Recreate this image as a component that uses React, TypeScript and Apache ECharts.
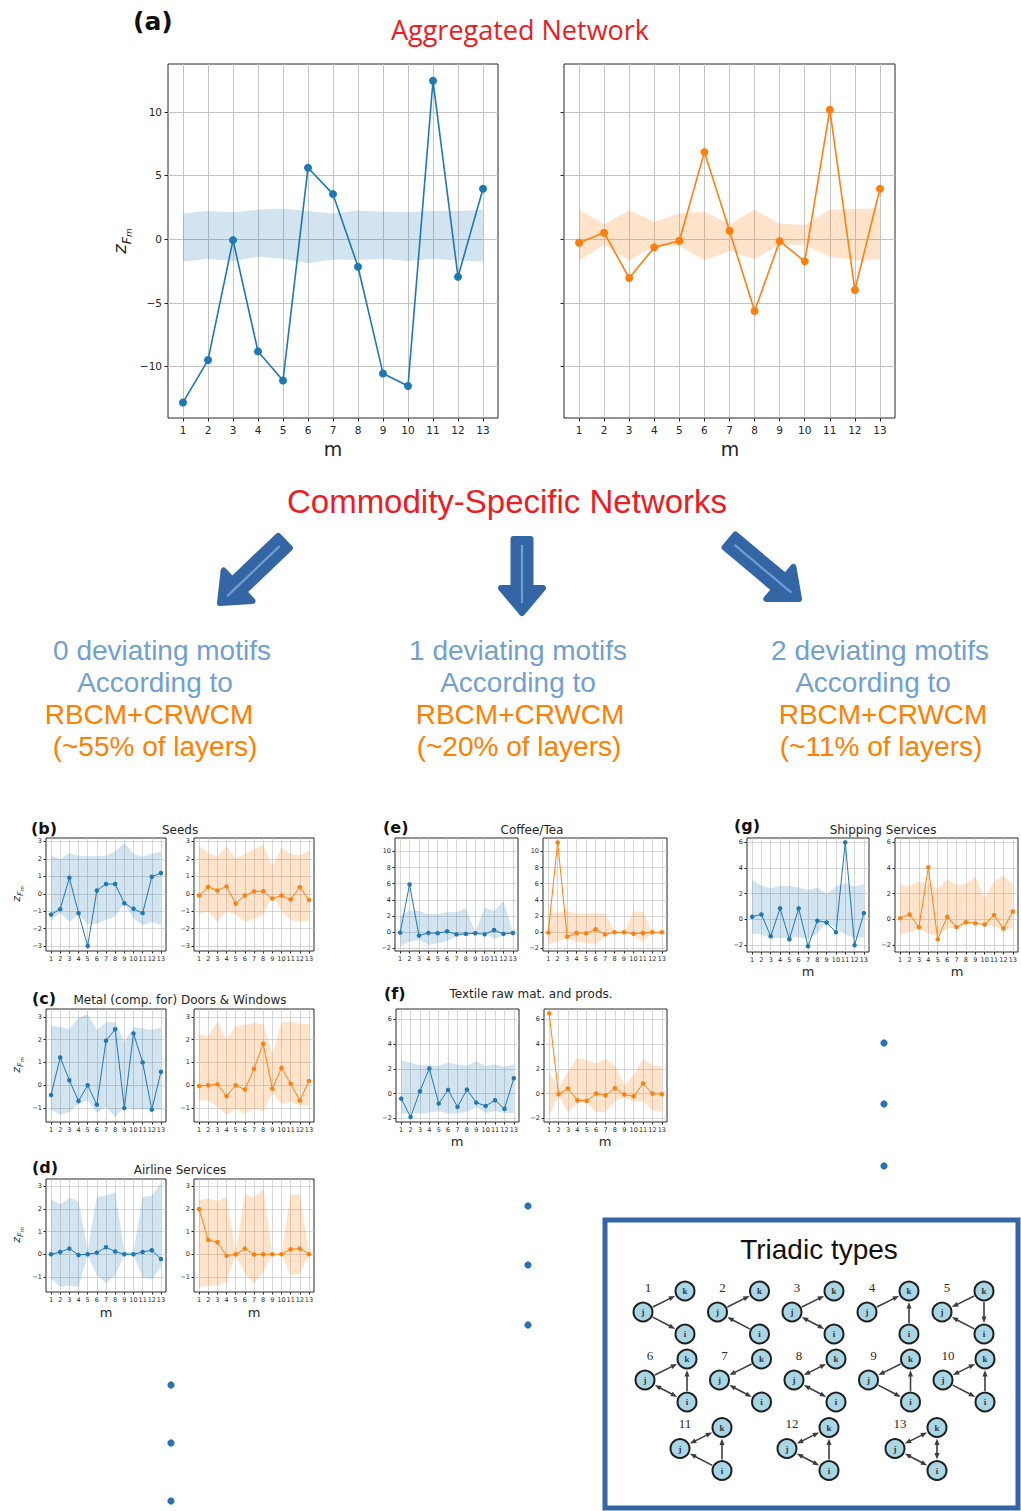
import React, { useEffect, useRef } from 'react';
import * as echarts from 'echarts';

// motif index m = 1..13
const M = [1, 2, 3, 4, 5, 6, 7, 8, 9, 10, 11, 12, 13];

// (a) aggregated network: z-scores and null-model bands (RBCM blue, CRWCM orange)
const aggBlue = [-12.83, -9.5, -0.08, -8.82, -11.1, 5.6, 3.53, -2.17, -10.55, -11.54, 12.43, -2.96, 3.95];
const aggBlueHi = [2.0, 2.2, 2.1, 2.3, 2.4, 2.2, 2.0, 2.25, 2.15, 2.1, 2.2, 2.2, 2.3];
const aggBlueLo = [-1.78, -1.55, -1.73, -1.39, -1.55, -1.9, -1.6, -1.65, -1.55, -1.73, -1.55, -1.68, -1.78];
const aggOrange = [-0.29, 0.5, -3.06, -0.65, -0.13, 6.83, 0.65, -5.65, -0.16, -1.75, 10.16, -4.0, 3.95];
const aggOrangeHi = [2.28, 1.18, 2.25, 1.36, 2.0, 2.17, 1.18, 2.3, 1.2, 1.1, 2.33, 2.36, 2.43];
const aggOrangeLo = [-1.7, -0.42, -1.68, -0.55, -0.55, -1.65, -0.94, -1.57, -0.45, -0.47, -1.41, -1.65, -1.6];

// (b) Seeds
const seedsBlue = [-1.19, -0.88, 0.92, -1.11, -2.99, 0.19, 0.56, 0.56, -0.54, -0.86, -1.11, 0.98, 1.19];
const seedsBlueHi = [2.2, 2.0, 2.34, 2.18, 2.16, 2.15, 2.18, 2.43, 2.91, 2.3, 2.13, 2.3, 2.43];
const seedsBlueLo = [-1.5, -1.1, -1.6, -1.2, -1.75, -1.7, -1.5, -1.3, -0.55, -1.4, -1.8, -1.6, -1.8];
const seedsOrange = [-0.1, 0.4, 0.19, 0.42, -0.56, -0.1, 0.13, 0.15, -0.27, -0.1, -0.33, 0.38, -0.35];
const seedsOrangeHi = [2.76, 2.34, 2.15, 2.72, 2.05, 2.28, 2.57, 2.82, 1.57, 2.66, 2.28, 2.2, 2.47];
const seedsOrangeLo = [-1.2, -1.0, -1.6, -1.0, -1.2, -1.6, -1.45, -1.2, -0.05, -1.0, -1.5, -1.6, -1.55];

// (c) Metal (comp. for) Doors & Windows
const metalBlue = [-0.43, 1.22, 0.22, -0.69, 0.0, -0.85, 1.95, 2.45, -1.0, 2.27, 1.0, -1.07, 0.59];
const metalBlueHi = [2.61, 2.54, 2.46, 2.96, 3.12, 2.42, 2.76, 2.76, 1.91, 2.54, 2.49, 2.42, 2.52];
const metalBlueLo = [-1.07, -1.28, -1.17, -0.81, -0.66, -1.22, -0.95, -1.39, -0.95, -1.06, -1.06, -1.06, -1.1];
const metalOrange = [-0.03, 0.0, 0.04, -0.47, 0.0, -0.19, 0.72, 1.82, -0.15, 0.76, 0.07, -0.67, 0.19];
const metalOrangeHi = [2.24, 2.13, 2.79, 2.02, 2.6, 2.64, 2.74, 2.67, 1.39, 2.74, 2.79, 2.71, 2.67];
const metalOrangeLo = [-0.66, -0.66, -0.95, -1.29, -1.03, -1.25, -1.03, -1.14, -0.35, -0.81, -0.73, -0.88, -0.91];

// (d) Airline Services
const airBlue = [0.0, 0.1, 0.25, -0.03, 0.0, 0.07, 0.31, 0.12, 0.0, 0.0, 0.1, 0.18, -0.21];
const airBlueHi = [2.43, 2.21, 2.5, 2.33, 0.18, 2.55, 2.59, 2.74, 0.1, 0.1, 2.53, 2.59, 3.14];
const airBlueLo = [-1.08, -1.45, -1.38, -1.45, -0.04, -0.93, -1.27, -0.93, -0.04, -0.04, -1.05, -1.11, -0.56];
const airOrange = [2.0, 0.64, 0.53, -0.07, 0.0, 0.25, -0.01, 0.0, 0.0, 0.0, 0.22, 0.25, 0.0];
const airOrangeHi = [2.4, 2.47, 2.36, 2.55, 0.1, 2.65, 2.5, 2.92, 0.0, 0.0, 2.65, 2.62, 0.1];
const airOrangeLo = [-1.45, -1.41, -1.38, -1.23, -0.04, -0.86, -1.31, -0.79, 0.0, 0.0, -0.93, -0.86, -0.04];

// (e) Coffee/Tea
const coffeeBlue = [-0.04, 5.9, -0.41, -0.08, -0.12, 0.12, -0.25, -0.2, -0.12, -0.25, 0.29, -0.2, -0.08];
const coffeeBlueHi = [2.07, 2.69, 2.64, 2.27, 2.27, 2.48, 2.48, 2.98, 0.0, 3.06, 2.64, 3.88, 0.1];
const coffeeBlueLo = [-1.7, -1.16, -0.95, -1.57, -1.36, -1.07, -0.54, -0.33, -0.12, 0.0, -0.83, -0.33, -0.12];
const coffeeOrange = [-0.04, 11.1, -0.54, -0.08, -0.12, 0.37, -0.25, 0.0, 0.0, -0.17, -0.08, 0.0, 0.0];
const coffeeOrangeHi = [2.35, 2.44, 2.64, 2.35, 2.35, 2.35, 2.35, 0.0, 0.0, 2.56, 2.56, 0.0, 0.0];
const coffeeOrangeLo = [-1.49, -1.16, -0.74, -1.16, -1.36, -1.49, -0.54, 0.0, 0.0, -0.41, -1.24, 0.0, 0.0];

// (f) Textile raw mat. and prods.
const textileBlue = [-0.41, -1.89, 0.19, 2.03, -0.81, 0.3, -1.08, 0.32, -0.73, -1.0, -0.54, -1.24, 1.24];
const textileBlueHi = [2.7, 2.49, 2.3, 2.3, 2.24, 2.51, 2.35, 2.24, 2.62, 2.22, 2.35, 2.16, 2.38];
const textileBlueLo = [-1.62, -1.62, -1.62, -1.54, -1.43, -1.62, -1.62, -1.49, -1.08, -1.57, -1.43, -1.57, -1.57];
const textileOrange = [6.49, -0.05, 0.41, -0.54, -0.59, 0.0, -0.14, 0.43, -0.08, -0.22, 0.81, 0.0, -0.05];
const textileOrangeHi = [1.76, 0.4, 1.81, 2.89, 2.7, 2.43, 2.78, 2.3, 0.68, 1.49, 2.84, 2.3, 2.19];
const textileOrangeLo = [-1.81, -0.14, -1.54, -0.81, -0.73, -1.49, -1.49, -0.62, -0.3, -0.68, -0.62, -1.35, -1.49];

// (g) Shipping Services
const shipBlue = [0.21, 0.39, -1.3, 0.86, -1.53, 0.86, -2.08, -0.1, -0.23, -0.99, 5.97, -2.0, 0.49];
const shipBlueHi = [3.06, 2.62, 2.42, 2.62, 2.6, 2.47, 2.29, 2.47, 1.95, 2.55, 2.81, 2.55, 2.75];
const shipBlueLo = [-1.09, -1.17, -1.43, -1.43, -1.43, -1.35, -1.48, -1.09, -0.18, -0.7, -1.17, -1.43, -1.38];
const shipOrange = [0.1, 0.39, -0.6, 4.05, -1.53, 0.21, -0.6, -0.21, -0.29, -0.39, 0.34, -0.7, 0.62];
const shipOrangeHi = [2.68, 2.6, 2.94, 2.73, 2.42, 3.14, 2.68, 2.73, 3.32, 1.64, 2.94, 3.4, 2.68];
const shipOrangeLo = [-1.17, -1.01, -0.7, -1.09, -1.27, -0.7, -0.65, -0.44, -0.18, -0.31, -0.57, -0.7, -0.7];

// y tick labels
const aggTicks = [-10, -5, 0, 5, 10];
const seedsTicks = [-3, -2, -1, 0, 1, 2, 3];
const unitTicks = [-1, 0, 1, 2, 3];
const coffeeTicks = [-2, 0, 2, 4, 6, 8, 10];
const evenTicks = [-2, 0, 2, 4, 6];

// texts
const panelTitles = ['Seeds', 'Metal (comp. for) Doors & Windows', 'Airline Services', 'Coffee/Tea', 'Textile raw mat. and prods.', 'Shipping Services'];
const panelLetters = ['(b)', '(c)', '(d)', '(e)', '(f)', '(g)'];
const deviatingCounts = ['0', '1', '2'];
const layerShares = ['~55%', '~20%', '~11%'];

// triadic motifs: edges between nodes j, k, i (true = reciprocal)
type Edge = [string, string, boolean?];
const triadEdges: Edge[][] = [
  [['j', 'k'], ['j', 'i']],
  [['j', 'k'], ['i', 'j']],
  [['j', 'k'], ['i', 'j', true]],
  [['j', 'k'], ['i', 'k']],
  [['k', 'j'], ['k', 'i'], ['i', 'j']],
  [['j', 'k'], ['i', 'j', true], ['i', 'k']],
  [['k', 'j'], ['i', 'j', true]],
  [['j', 'k', true], ['i', 'j', true]],
  [['k', 'j'], ['j', 'i'], ['i', 'k']],
  [['j', 'k', true], ['j', 'i'], ['i', 'k']],
  [['j', 'k', true], ['i', 'j'], ['i', 'k']],
  [['j', 'k', true], ['i', 'j', true], ['i', 'k']],
  [['j', 'k', true], ['i', 'j', true], ['i', 'k', true]],
];

const BLUE = '#1f77b4';
const ORANGE = '#ff7f0e';
const BLUE_BAND = 'rgba(31,119,180,0.2)';
const ORANGE_BAND = 'rgba(255,127,14,0.22)';
const TEXT_BLUE = '#729fcf';
const TEXT_ORANGE = '#ff8000';
const RED = '#ec1c24';
const ARROW = '#3465a4';

type Panel = {
  left: number; top: number; width: number; height: number;
  yMin: number; yMax: number; yTicks: number[]; xMin: number; xMax: number;
  values: number[]; lo: number[]; hi: number[]; color: string; band: string;
  big: boolean; yLabels: boolean;
};

const small = (left: number, top: number, width: number, height: number, yMin: number, yMax: number, yTicks: number[], values: number[], lo: number[], hi: number[], blue: boolean): Panel => ({
  left, top, width, height, yMin, yMax, yTicks, xMin: 0.45, xMax: 13.55,
  values, lo, hi, color: blue ? BLUE : ORANGE, band: blue ? BLUE_BAND : ORANGE_BAND, big: false, yLabels: true,
});

const panels: Panel[] = [
  { left: 168, top: 64, width: 330, height: 354, yMin: -14.05, yMax: 13.75, yTicks: aggTicks, xMin: 0.4, xMax: 13.6, values: aggBlue, lo: aggBlueLo, hi: aggBlueHi, color: BLUE, band: BLUE_BAND, big: true, yLabels: true },
  { left: 564, top: 64, width: 331, height: 354, yMin: -14.05, yMax: 13.75, yTicks: aggTicks, xMin: 0.4, xMax: 13.6, values: aggOrange, lo: aggOrangeLo, hi: aggOrangeHi, color: ORANGE, band: ORANGE_BAND, big: true, yLabels: false },
  small(46, 838, 120, 113, -3.28, 3.2, seedsTicks, seedsBlue, seedsBlueLo, seedsBlueHi, true),
  small(194, 838, 120, 113, -3.28, 3.2, seedsTicks, seedsOrange, seedsOrangeLo, seedsOrangeHi, false),
  small(46, 1009, 120, 113, -1.61, 3.34, unitTicks, metalBlue, metalBlueLo, metalBlueHi, true),
  small(194, 1009, 120, 113, -1.61, 3.34, unitTicks, metalOrange, metalOrangeLo, metalOrangeHi, false),
  small(46, 1179, 120, 113, -1.67, 3.33, unitTicks, airBlue, airBlueLo, airBlueHi, true),
  small(194, 1179, 120, 113, -1.67, 3.33, unitTicks, airOrange, airOrangeLo, airOrangeHi, false),
  small(395, 838, 123, 113, -2.31, 11.65, coffeeTicks, coffeeBlue, coffeeBlueLo, coffeeBlueHi, true),
  small(543, 838, 124, 113, -2.31, 11.65, coffeeTicks, coffeeOrange, coffeeOrangeLo, coffeeOrangeHi, false),
  small(396, 1009, 123, 113, -2.3, 6.84, evenTicks, textileBlue, textileBlueLo, textileBlueHi, true),
  small(544, 1009, 123, 113, -2.3, 6.84, evenTicks, textileOrange, textileOrangeLo, textileOrangeHi, false),
  small(747, 838, 122, 114, -2.52, 6.31, evenTicks, shipBlue, shipBlueLo, shipBlueHi, true),
  small(895, 838, 123, 114, -2.52, 6.31, evenTicks, shipOrange, shipOrangeLo, shipOrangeHi, false),
];

const minus = (v: any) => String(v).replace('-', '\u2212');

function text(t: string, x: number, y: number, size: number, opts: any = {}) {
  const align = opts.align || 'center';
  return {
    type: 'text', x, y, z: 20,
    style: {
      text: t, fontSize: size, fontFamily: opts.family || 'DejaVu Sans', fontWeight: opts.weight || 'normal',
      fontStyle: opts.style || 'normal', fill: opts.color || '#262626',
      align, textAlign: align, verticalAlign: 'middle', textVerticalAlign: 'middle',
    },
  };
}

function zLabel(x: number, y: number, size: number) {
  const base = { fontFamily: 'DejaVu Sans', fontStyle: 'italic', fill: '#262626' };
  return {
    type: 'text', x, y, z: 20, rotation: Math.PI / 2,
    style: {
      text: '{z|z}{f|F}{s|m}', align: 'center', textAlign: 'center', verticalAlign: 'middle', textVerticalAlign: 'middle',
      rich: {
        z: { ...base, fontSize: size, lineHeight: size * 1.25, verticalAlign: 'top' },
        f: { ...base, fontSize: size * 0.7, lineHeight: size * 0.8, verticalAlign: 'bottom' },
        s: { ...base, fontSize: size * 0.5, lineHeight: size * 0.55, verticalAlign: 'bottom' },
      },
    },
  };
}

// thick block arrow from (x1,y1) to the tip (x2,y2)
function blockArrow(x1: number, y1: number, x2: number, y2: number) {
  const sw = 17, hw = 42, hl = 25;
  const L = Math.hypot(x2 - x1, y2 - y1);
  const dx = (x2 - x1) / L, dy = (y2 - y1) / L, nx = -dy, ny = dx;
  const bx = x2 - dx * hl, by = y2 - dy * hl;
  const pts = [
    [x1 + nx * sw / 2, y1 + ny * sw / 2], [bx + nx * sw / 2, by + ny * sw / 2], [bx + nx * hw / 2, by + ny * hw / 2],
    [x2, y2], [bx - nx * hw / 2, by - ny * hw / 2], [bx - nx * sw / 2, by - ny * sw / 2], [x1 - nx * sw / 2, y1 - ny * sw / 2],
  ];
  return [
    { type: 'polygon', z: 20, shape: { points: pts }, style: { fill: ARROW, stroke: ARROW, lineWidth: 6, lineJoin: 'round' } },
    { type: 'line', z: 21, shape: { x1: x1 + dx * 6, y1: y1 + dy * 6, x2: x2 - dx * 10, y2: y2 - dy * 10 }, style: { stroke: TEXT_BLUE, lineWidth: 2.2 } },
  ];
}

// one small arrowhead with its tip at (tx,ty) pointing along (dx,dy)
function head(tx: number, ty: number, dx: number, dy: number) {
  const hl = 6.5, hw = 5;
  return {
    type: 'polygon', z: 31,
    shape: { points: [[tx, ty], [tx - dx * hl - dy * hw / 2, ty - dy * hl + dx * hw / 2], [tx - dx * hl + dy * hw / 2, ty - dy * hl - dx * hw / 2]] },
    style: { fill: '#3d3d3d' },
  };
}

function triads() {
  const out: any[] = [];
  const row1 = [643, 717.5, 792, 867, 942];
  const row2 = [645, 719.5, 794, 868.5, 943];
  const row3 = [680, 787, 895];
  const origins = [
    ...row1.map((x) => [x, 1312]),
    ...row2.map((x) => [x, 1380]),
    ...row3.map((x) => [x, 1448.5]),
  ];
  const R = 9.5;
  triadEdges.forEach((edges, idx) => {
    const [jx, jy] = origins[idx];
    const pos: Record<string, number[]> = { j: [jx, jy], k: [jx + 42, jy - 21], i: [jx + 42, jy + 22] };
    out.push(text(String(idx + 1), jx + 5, jy - 25, 13, { family: 'Liberation Serif', color: '#2b2b2b' }));
    edges.forEach(([a, b, both]) => {
      const [x1, y1] = pos[a];
      const [x2, y2] = pos[b];
      const L = Math.hypot(x2 - x1, y2 - y1);
      const dx = (x2 - x1) / L, dy = (y2 - y1) / L;
      const r = R + 1.5;
      const sx = x1 + dx * r, sy = y1 + dy * r, ex = x2 - dx * r, ey = y2 - dy * r;
      const ls = both ? 5 : 0;
      out.push({ type: 'line', z: 30, shape: { x1: sx + dx * ls, y1: sy + dy * ls, x2: ex - dx * 5, y2: ey - dy * 5 }, style: { stroke: '#3d3d3d', lineWidth: 1.6 } });
      out.push(head(ex, ey, dx, dy));
      if (both) out.push(head(sx, sy, -dx, -dy));
    });
    ['j', 'k', 'i'].forEach((n) => {
      out.push({ type: 'circle', z: 32, shape: { cx: pos[n][0], cy: pos[n][1], r: R }, style: { fill: '#a9d6e5', stroke: '#1e1e1e', lineWidth: 2 } });
      out.push({ ...text(n, pos[n][0], pos[n][1], 9, { family: 'Liberation Serif', weight: 'bold', color: '#333' }), z: 33 });
    });
  });
  return out;
}

function buildGraphic() {
  const g: any[] = [];
  // panel (a) labels
  g.push(text('(a)', 133, 21, 25, { weight: 'bold', align: 'left', color: '#111' }));
  g.push(text('Aggregated Network', 520, 29, 27, { family: 'Open Sans', color: RED }));
  g.push(text('m', 333, 449, 19));
  g.push(text('m', 730, 449, 19));
  g.push(zLabel(122, 241, 18));
  g.push(text('Commodity-Specific Networks', 507, 501, 33, { family: 'Liberation Sans', color: RED }));

  // arrows
  g.push(...blockArrow(284, 542, 220, 603));
  g.push(...blockArrow(522, 539, 522, 613));
  g.push(...blockArrow(730, 541, 799, 599));

  // summary text blocks
  const cols = [
    [162, 155, 149, 155],
    [518, 518, 520, 519],
    [880, 873, 883, 881],
  ];
  cols.forEach((c, i) => {
    g.push(text(`${deviatingCounts[i]} deviating motifs`, c[0], 650, 28, { family: 'Liberation Sans', color: TEXT_BLUE }));
    g.push(text('According to', c[1], 682, 28, { family: 'Liberation Sans', color: TEXT_BLUE }));
    g.push(text('RBCM+CRWCM', c[2], 714, 28, { family: 'Liberation Sans', color: TEXT_ORANGE }));
    g.push(text(`(${layerShares[i]} of layers)`, c[3], 746, 28, { family: 'Liberation Sans', color: TEXT_ORANGE }));
  });

  // small-panel headers
  const letterPos = [[31, 828], [32, 998], [32, 1167], [383, 827], [384, 993], [734, 825]];
  const titlePos = [[180, 830], [180, 1000], [180, 1170], [532, 830], [531, 994], [883, 830]];
  panelTitles.forEach((t, i) => {
    g.push(text(panelLetters[i], letterPos[i][0], letterPos[i][1], 16, { weight: 'bold', align: 'left', color: '#111' }));
    g.push(text(t, titlePos[i][0], titlePos[i][1], 12));
  });
  g.push(zLabel(18, 894, 11));
  g.push(zLabel(18, 1065, 11));
  g.push(zLabel(18, 1235, 11));
  [[106, 1312], [254, 1312], [457, 1141], [605, 1141], [808, 971], [957, 971]].forEach(([x, y]) => g.push(text('m', x, y, 13)));

  // continuation dots
  [[171, 1385], [171, 1443], [171, 1501], [528, 1206], [528, 1265], [528, 1325], [884, 1043], [884, 1104], [884, 1166]].forEach(([x, y]) =>
    g.push({ type: 'circle', z: 20, shape: { cx: x, cy: y, r: 3.6 }, style: { fill: '#2a72b5' } }));

  // triadic types legend box
  g.push({ type: 'rect', z: 19, shape: { x: 605, y: 1220, width: 413, height: 288 }, style: { fill: '#fff', stroke: ARROW, lineWidth: 5 } });
  g.push(text('Triadic types', 819, 1249, 28, { family: 'Liberation Sans', color: '#111' }));
  g.push(...triads());
  return g;
}

export default function App() {
  const ref = useRef<HTMLDivElement>(null);
  useEffect(() => {
    if (!ref.current) return;
    const chart = echarts.init(ref.current, undefined, { renderer: 'svg' });
    const series: any[] = [];
    panels.forEach((p, i) => {
      series.push({
        type: 'custom', xAxisIndex: i, yAxisIndex: i, silent: true, z: 1,
        data: M.map((m, k) => [m, p.lo[k], p.hi[k]]),
        encode: { x: 0, y: [1, 2] },
        renderItem: (params: any, api: any) => {
          if (params.dataIndex !== 0) return null;
          const top = M.map((m, k) => api.coord([m, p.hi[k]]));
          const bottom = M.map((m, k) => api.coord([m, p.lo[k]])).reverse();
          return { type: 'polygon', shape: { points: top.concat(bottom) }, style: { fill: p.band } };
        },
      });
      series.push({
        type: 'line', xAxisIndex: i, yAxisIndex: i, z: 3,
        data: M.map((m, k) => [m, p.values[k]]),
        symbol: 'circle', symbolSize: p.big ? 8 : 4.5, showSymbol: true,
        lineStyle: { color: p.color, width: p.big ? 1.6 : 1 },
        itemStyle: { color: p.color },
      });
    });
    const gridLine = (p: Panel) => ({ show: true, lineStyle: { color: '#c4c4c4', width: p.big ? 1 : 0.7 } });
    chart.setOption({
      animation: false,
      backgroundColor: '#ffffff',
      grid: panels.map((p) => ({ left: p.left, top: p.top, width: p.width, height: p.height, show: true, borderColor: '#262626', borderWidth: 1, backgroundColor: 'rgba(0,0,0,0)' })),
      xAxis: panels.map((p, i) => ({
        gridIndex: i, type: 'value', min: p.xMin, max: p.xMax, position: 'bottom',
        axisLine: { show: false, onZero: false },
        axisTick: { show: true, customValues: M, length: p.big ? 3.5 : 2.5, lineStyle: { color: '#262626' } },
        axisLabel: { customValues: M, fontSize: p.big ? 10.5 : 6.5, color: '#262626', fontFamily: 'DejaVu Sans', margin: p.big ? 6 : 4 },
        splitLine: gridLine(p),
      })),
      yAxis: panels.map((p, i) => ({
        gridIndex: i, type: 'value', min: p.yMin, max: p.yMax, position: 'left',
        axisLine: { show: false, onZero: false },
        axisTick: { show: true, customValues: p.yTicks, length: p.big ? 3.5 : 2.5, lineStyle: { color: '#262626' } },
        axisLabel: { show: p.yLabels, customValues: p.yTicks, fontSize: p.big ? 10.5 : 6.5, color: '#262626', fontFamily: 'DejaVu Sans', margin: p.big ? 6 : 4, formatter: minus },
        splitLine: gridLine(p),
      })),
      series,
      graphic: buildGraphic(),
    });
    return () => chart.dispose();
  }, []);
  return <div ref={ref} style={{ position: 'absolute', left: 0, top: 0, width: 1021, height: 1511, background: '#fff' }} />;
}
